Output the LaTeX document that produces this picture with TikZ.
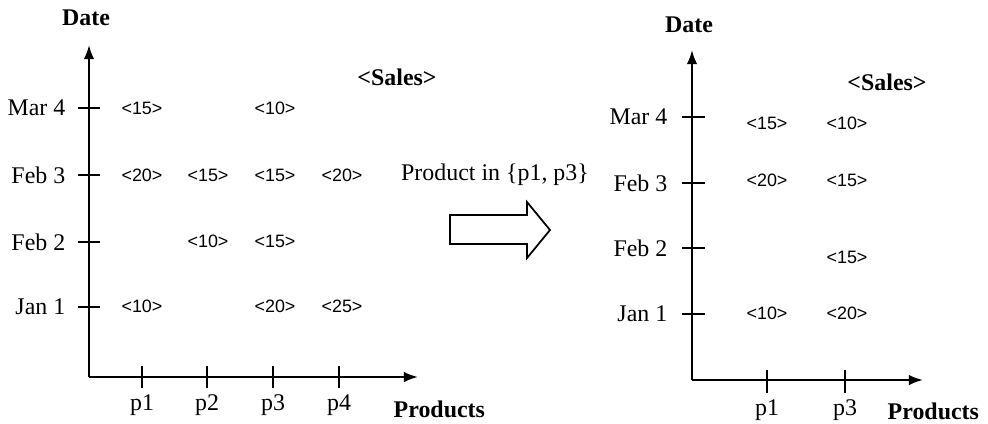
\documentclass[tikz,border=0pt]{standalone}
\usepackage{fontspec}
\setmainfont{Liberation Serif}
\newfontfamily\salesfont{Liberation Sans}
\usetikzlibrary{arrows.meta}

\begin{document}
\begin{tikzpicture}[x=0.01cm, y=-0.01cm,
      every node/.style={font=\fontsize{6.8}{8}\selectfont, inner sep=0pt},
      axlbl/.style={font=\fontsize{6.8}{8}\selectfont\bfseries},
      val/.style={font=\salesfont\fontsize{5.1}{6}\selectfont},
      datelbl/.style={anchor=east},
      axis/.style={line width=0.6pt, -{Latex[length=4pt,width=3pt]}},
      tickmark/.style={line width=0.6pt}]
    \useasboundingbox (0,0) rectangle (988,423);

    % left cube: all products
    \coordinate (O1) at (89,377);
    \coordinate (Y1) at (89,45);
    \coordinate (X1) at (418,377);
    \draw[axis] (O1) -- (Y1);
    \draw[axis] (O1) -- (X1);
    \node[axlbl] (date1) at (86,18) {Date};
    \node[axlbl, anchor=west] (prod1) at (393,409) {Products};
    \node[axlbl] (sales1) at (397,77) {<Sales>};

    \node[datelbl] (mar4a) at (66,108) {Mar 4};
    \node[datelbl] (feb3a) at (66,175) {Feb 3};
    \node[datelbl] (feb2a) at (66,242) {Feb 2};
    \node[datelbl] (jan1a) at (66,307) {Jan 1};
    \draw[tickmark] (78,108) -- (100,108);
    \draw[tickmark] (78,175) -- (100,175);
    \draw[tickmark] (78,242) -- (100,242);
    \draw[tickmark] (78,307) -- (100,307);

    \node (p1a) at (142,405) {p1};
    \node (p2a) at (207,405) {p2};
    \node (p3a) at (273,405) {p3};
    \node (p4a) at (339,405) {p4};
    \draw[tickmark] (142,366) -- (142,388);
    \draw[tickmark] (207,366) -- (207,388);
    \draw[tickmark] (273,366) -- (273,388);
    \draw[tickmark] (339,366) -- (339,388);

    \node[val] (a11) at (142,108) {<15>};
    \node[val] (a13) at (275,108) {<10>};
    \node[val] (a21) at (142,175) {<20>};
    \node[val] (a22) at (208,175) {<15>};
    \node[val] (a23) at (275,175) {<15>};
    \node[val] (a24) at (342,175) {<20>};
    \node[val] (a32) at (208,241) {<10>};
    \node[val] (a33) at (275,241) {<15>};
    \node[val] (a41) at (142,306) {<10>};
    \node[val] (a43) at (275,306) {<20>};
    \node[val] (a44) at (342,306) {<25>};

    % the filter
    \node (filt) at (495,175) {Product in \{p1, p3\}};
    \draw[line width=0.5pt] (450,215) -- (527,215) -- (527,202) -- (550,230)
      -- (527,258) -- (527,244) -- (450,244) -- cycle;

    % right cube: p1 and p3 only
    \coordinate (O2) at (692,380);
    \coordinate (Y2) at (692,50);
    \coordinate (X2) at (923,380);
    \draw[axis] (O2) -- (Y2);
    \draw[axis] (O2) -- (X2);
    \node[axlbl] (date2) at (689,25) {Date};
    \node[axlbl, anchor=west] (prod2) at (887,411) {Products};
    \node[axlbl] (sales2) at (887,82) {<Sales>};

    \node[datelbl] (mar4b) at (668,117) {Mar 4};
    \node[datelbl] (feb3b) at (668,183) {Feb 3};
    \node[datelbl] (feb2b) at (668,248) {Feb 2};
    \node[datelbl] (jan1b) at (668,314) {Jan 1};
    \draw[tickmark] (682,117) -- (705,117);
    \draw[tickmark] (682,183) -- (705,183);
    \draw[tickmark] (682,248) -- (705,248);
    \draw[tickmark] (682,314) -- (705,314);

    \node (p1b) at (767,410) {p1};
    \node (p3b) at (845,410) {p3};
    \draw[tickmark] (767,370) -- (767,393);
    \draw[tickmark] (845,370) -- (845,393);

    \node[val] (b11) at (767,123) {<15>};
    \node[val] (b13) at (847,123) {<10>};
    \node[val] (b21) at (767,180) {<20>};
    \node[val] (b23) at (847,180) {<15>};
    \node[val] (b33) at (847,257) {<15>};
    \node[val] (b41) at (767,313) {<10>};
    \node[val] (b43) at (847,313) {<20>};
  \end{tikzpicture}
\end{document}
